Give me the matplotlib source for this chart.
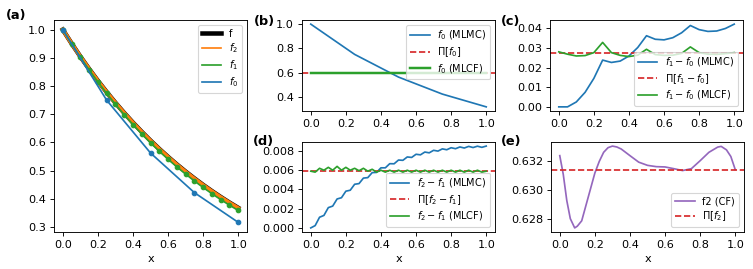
import matplotlib
matplotlib.use("Agg")
import matplotlib.pyplot as plt
from matplotlib.lines import Line2D

# ---------------- data ----------------
x0 = [0.0, 0.25, 0.5, 0.75, 1.0]
x1 = [0.0, 0.05, 0.1, 0.15, 0.2, 0.25, 0.3, 0.35, 0.4, 0.45, 0.5,
      0.55, 0.6, 0.65, 0.7, 0.75, 0.8, 0.85, 0.9, 0.95, 1.0]
x2 = [0.0, 0.025, 0.05, 0.075, 0.1, 0.125, 0.15, 0.175, 0.2, 0.225, 0.25,
      0.275, 0.3, 0.325, 0.35, 0.375, 0.4, 0.425, 0.45, 0.475, 0.5,
      0.525, 0.55, 0.575, 0.6, 0.625, 0.65, 0.675, 0.7, 0.725, 0.75,
      0.775, 0.8, 0.825, 0.85, 0.875, 0.9, 0.925, 0.95, 0.975, 1.0]

f_true = [1.0, 0.9512, 0.9048, 0.8607, 0.8187, 0.7788, 0.7408, 0.7047, 0.6703,
          0.6376, 0.6065, 0.5769, 0.5488, 0.5220, 0.4966, 0.4724, 0.4493,
          0.4274, 0.4066, 0.3867, 0.3679]
f2_vals = [1.0, 0.9511, 0.9046, 0.8604, 0.8183, 0.7783, 0.7403, 0.7041, 0.6697,
           0.6369, 0.6058, 0.5762, 0.5480, 0.5212, 0.4957, 0.4715, 0.4485,
           0.4265, 0.4057, 0.3859, 0.3670]
f1_vals = [1.0, 0.95, 0.9025, 0.8574, 0.8145, 0.7738, 0.7351, 0.6983, 0.6634,
           0.6302, 0.5987, 0.5688, 0.5404, 0.5133, 0.4877, 0.4633, 0.4401,
           0.4181, 0.3972, 0.3774, 0.3585]
f0_vals = [1.0, 0.75, 0.5625, 0.4219, 0.3164]

# (b)
f0_mlcf = [0.598, 0.598, 0.598, 0.598, 0.598]
pi_f0 = 0.598

# (c)
d10_mlmc = [0.0, 0.0, 0.0025, 0.0074, 0.0145, 0.0238, 0.0226, 0.0233, 0.0259,
            0.0302, 0.0362, 0.0344, 0.0341, 0.0352, 0.0377, 0.0414, 0.0393,
            0.0384, 0.0386, 0.0399, 0.0421]
d10_mlcf = [0.0280, 0.0268, 0.0259, 0.0261, 0.0276, 0.0328, 0.0276, 0.0262,
            0.0256, 0.0263, 0.0293, 0.0266, 0.0262, 0.0263, 0.0272, 0.0305,
            0.0276, 0.0268, 0.0267, 0.0271, 0.0276]
pi_d10 = 0.0275

# (d)
d21_mlmc = [0.0, 0.00024, 0.00111, 0.00130, 0.00211, 0.00227, 0.00301, 0.00314,
            0.00382, 0.00392, 0.00454, 0.00461, 0.00518, 0.00523, 0.00575,
            0.00577, 0.00625, 0.00625, 0.00668, 0.00667, 0.00706, 0.00703,
            0.00738, 0.00733, 0.00766, 0.00760, 0.00789, 0.00781, 0.00807,
            0.00799, 0.00822, 0.00813, 0.00834, 0.00824, 0.00842, 0.00831,
            0.00848, 0.00836, 0.00850, 0.00838, 0.00851]
d21_mlcf = [0.0059, 0.0058, 0.0062, 0.0060, 0.0063, 0.0060, 0.0064, 0.0060,
            0.0063, 0.0060, 0.0062, 0.00595, 0.0062, 0.0059, 0.0061, 0.0058,
            0.0060, 0.0058, 0.0060, 0.0058, 0.0060, 0.0058, 0.0060, 0.0058,
            0.0060, 0.0058, 0.0060, 0.0058, 0.0060, 0.0058, 0.0060, 0.0058,
            0.0060, 0.0058, 0.0060, 0.0058, 0.0060, 0.0058, 0.0060, 0.0058,
            0.0059]
pi_d21 = 0.00597

# (e)
xe = [0.0, 0.02, 0.04, 0.06, 0.085, 0.1, 0.125, 0.15, 0.175, 0.2, 0.225, 0.25,
      0.275, 0.3, 0.325, 0.35, 0.4, 0.45, 0.5, 0.55, 0.6, 0.65, 0.7, 0.75,
      0.8, 0.85, 0.9, 0.92, 0.95, 0.975, 1.0]
f2_cf = [0.6324, 0.6311, 0.6293, 0.62805, 0.62741, 0.62753, 0.6279, 0.6290,
         0.6301, 0.6312, 0.6320, 0.63263, 0.63295, 0.63306, 0.6330, 0.63286,
         0.6324, 0.63195, 0.63173, 0.63164, 0.63162, 0.6315, 0.63137, 0.6315,
         0.63205, 0.63263, 0.63299, 0.63304, 0.6328, 0.63234, 0.63144]
pi_f2 = 0.63144

x_ticks = [0.0, 0.2, 0.4, 0.6, 0.8, 1.0]
a_yticks = [0.3, 0.4, 0.5, 0.6, 0.7, 0.8, 0.9, 1.0]
b_yticks = [0.4, 0.6, 0.8, 1.0]
c_yticks = [0.00, 0.01, 0.02, 0.03, 0.04]
d_yticks = [0.000, 0.002, 0.004, 0.006, 0.008]
e_yticks = [0.628, 0.630, 0.632]

# ---------------- figure ----------------
W, H = 753, 269
DPI = 81.4
fig = plt.figure(figsize=(W / DPI, H / DPI), dpi=DPI)

def rect(l, r, t, b):
    return [l / W, 1 - b / H, (r - l) / W, (b - t) / H]

axA = fig.add_axes(rect(54, 247, 20, 232))
axB = fig.add_axes(rect(302, 495, 20, 111))
axC = fig.add_axes(rect(550, 743, 20, 111))
axD = fig.add_axes(rect(302, 495, 142, 232))
axE = fig.add_axes(rect(551, 744, 142, 232))

blue, orange, green, red, purple = "#1f77b4", "#ff7f0e", "#2ca02c", "#d62728", "#9467bd"
LEG = dict(fontsize=8.6, labelspacing=0.3)

# (a)
axA.plot(x1, f_true, color="black", lw=4, label="f")
axA.plot(x1, f2_vals, color=orange, lw=3.5)
axA.plot(x1, f1_vals, color=green, lw=1.5, marker="o", ms=4)
axA.plot(x0, f0_vals, color=blue, lw=1.5, marker="o", ms=4)
handles = [Line2D([], [], color="black", lw=4),
           Line2D([], [], color=orange, lw=1.5),
           Line2D([], [], color=green, lw=1.5),
           Line2D([], [], color=blue, lw=1.5)]
axA.legend(handles, ["f", "$f_2$", "$f_1$", "$f_0$"], loc="upper right", **LEG)
axA.set_xlabel("x")
axA.set_yticks(a_yticks)

# (b)
axB.plot(x0, f0_vals, color=blue, label="$f_0$ (MLMC)")
axB.axhline(pi_f0, color=red, ls="--", label=r"$\Pi[f_0]$")
axB.plot(x0, f0_mlcf, color=green, lw=2.2, label="$f_0$ (MLCF)")
axB.legend(loc="upper right", **LEG)
axB.set_yticks(b_yticks)

# (c)
axC.plot(x1, d10_mlmc, color=blue, label="$f_1 - f_0$ (MLMC)")
axC.axhline(pi_d10, color=red, ls="--", label=r"$\Pi[f_1 - f_0]$")
axC.plot(x1, d10_mlcf, color=green, label="$f_1 - f_0$ (MLCF)")
axC.legend(loc="lower right", **LEG)
axC.set_yticks(c_yticks)

# (d)
axD.plot(x2, d21_mlmc, color=blue, label="$f_2 - f_1$ (MLMC)")
axD.axhline(pi_d21, color=red, ls="--", label=r"$\Pi[f_2 - f_1]$")
axD.plot(x2, d21_mlcf, color=green, label="$f_2 - f_1$ (MLCF)")
axD.legend(loc="lower right", **LEG)
axD.set_xlabel("x")
axD.set_yticks(d_yticks)

# (e)
axE.plot(xe, f2_cf, color=purple, label="f2 (CF)")
axE.axhline(pi_f2, color=red, ls="--", label=r"$\Pi[f_2]$")
axE.legend(loc="lower right", **LEG)
axE.set_xlabel("x")
axE.set_yticks(e_yticks)

for ax in (axA, axB, axC, axD, axE):
    ax.set_xticks(x_ticks)

# panel labels
labels = [("(a)", 16, 15), ("(b)", 264, 21), ("(c)", 511, 21), ("(d)", 263, 142), ("(e)", 511, 142)]
for txt, px, py in labels:
    fig.text(px / W, 1 - py / H, txt, fontsize=11.5, fontweight="bold", ha="center", va="center")

fig.savefig("out.png", dpi=DPI)
